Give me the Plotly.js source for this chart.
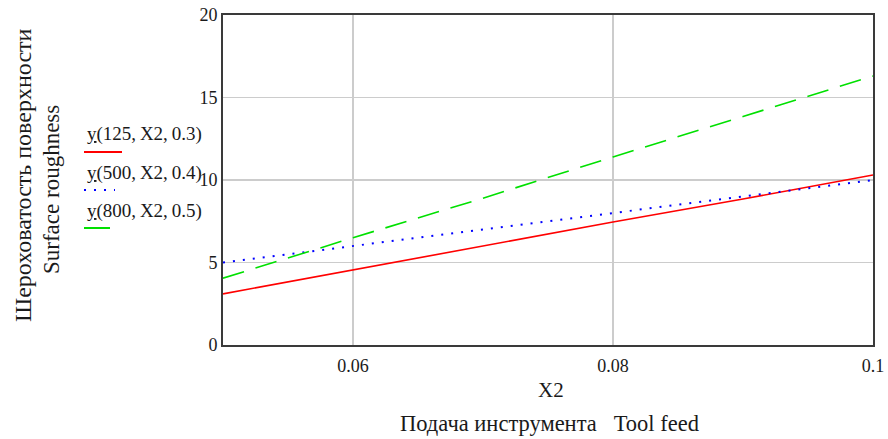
<!DOCTYPE html>
<html>
<head>
<meta charset="utf-8">
<script src="https://cdn.plot.ly/plotly-3.0.1.min.js"></script>
<style>html,body{margin:0;padding:0;background:#fff;}#chart{width:888px;height:439px;}</style>
</head>
<body>
<div id="chart"></div>
<script>
// Data
const feed = [0.05, 0.06, 0.07, 0.08, 0.09, 0.1];
const rough125 = [3.1, 4.55, 6.0, 7.45, 8.85, 10.3];
const rough500 = [5.0, 6.0, 7.0, 8.0, 9.0, 10.0];
const rough800 = [4.05, 6.5, 8.9, 11.4, 13.85, 16.3];
const seriesNames = ["y(125,\u2009X2,\u20090.3)", "y(500,\u2009X2,\u20090.4)", "y(800,\u2009X2,\u20090.5)"];
const xTicks = [0.06, 0.08, 0.1];
const xTickText = ["0.06", "0.08", "0.1"];
const yTicks = [0, 5, 10, 15, 20];
const yTitle1 = "Шероховатость поверхности";
const yTitle2 = "Surface roughness";
const xTitle1 = "X2";
const xTitle2 = "Подача инструмента   Tool feed";

const W = 888, H = 439;
const M = {l: 223, r: 15, t: 15, b: 94};
const PW = W - M.l - M.r, PH = H - M.t - M.b;
const px = x => (x - M.l) / PW;
const py = y => (H - M.b - y) / PH;

const FONT = "Liberation Serif";
const TXT = "#1a1a1a";

const traces = [
  {x: feed, y: rough125, mode: "lines", name: seriesNames[0], line: {color: "#ff0000", width: 1.6, dash: "solid"}},
  {x: feed, y: rough500, mode: "lines", name: seriesNames[1], line: {color: "#0000ff", width: 2, dash: "2px,8px"}},
  {x: feed, y: rough800, mode: "lines", name: seriesNames[2], line: {color: "#00e000", width: 1.6, dash: "22px,12px"}}
];

const legendColors = ["#ff0000", "#0000ff", "#00e000"];
const legendDash = ["solid", "2px,8px", "solid"];
const legendTextY = [134, 173, 211];
const legendLineY = [152, 190, 228];
const legendLineX2 = [122, 115, 110];

const annotations = [];
const shapes = [];
for (let i = 0; i < 3; i++) {
  annotations.push({
    xref: "paper", yref: "paper", x: px(85), y: py(legendTextY[i]),
    xanchor: "left", yanchor: "middle", showarrow: false,
    text: "<u>y</u>" + seriesNames[i].slice(1),
    font: {family: FONT, size: 19, color: TXT}
  });
  shapes.push({
    type: "line", xref: "paper", yref: "paper",
    x0: px(84), x1: px(legendLineX2[i]), y0: py(legendLineY[i]), y1: py(legendLineY[i]),
    line: {color: legendColors[i], width: 2, dash: legendDash[i]}
  });
}
annotations.push({
  xref: "paper", yref: "paper", x: px(23), y: py(175), textangle: -90,
  xanchor: "center", yanchor: "middle", showarrow: false,
  text: yTitle1, font: {family: FONT, size: 24, color: TXT}
});
annotations.push({
  xref: "paper", yref: "paper", x: px(51), y: py(189), textangle: -90,
  xanchor: "center", yanchor: "middle", showarrow: false,
  text: yTitle2, font: {family: FONT, size: 23, color: TXT}
});
annotations.push({
  xref: "paper", yref: "paper", x: px(551), y: py(390),
  xanchor: "center", yanchor: "middle", showarrow: false,
  text: xTitle1, font: {family: FONT, size: 21, color: TXT}
});
annotations.push({
  xref: "paper", yref: "paper", x: px(549), y: py(424),
  xanchor: "center", yanchor: "middle", showarrow: false,
  text: xTitle2, font: {family: FONT, size: 22.5, color: TXT}
});

const layout = {
  width: W, height: H,
  margin: M,
  paper_bgcolor: "#ffffff", plot_bgcolor: "#ffffff",
  showlegend: false,
  xaxis: {
    range: [0.05, 0.1], tickvals: xTicks, ticktext: xTickText,
    showgrid: true, gridcolor: "#cccccc", gridwidth: 1.5,
    showline: true, linecolor: "#3a3a3a", linewidth: 2, mirror: true,
    zeroline: false, ticks: "", ticklabelstandoff: 3,
    tickfont: {family: FONT, size: 18, color: TXT}
  },
  yaxis: {
    range: [0, 20], tickvals: yTicks,
    showgrid: true, gridcolor: "#cccccc", gridwidth: 1.5,
    showline: true, linecolor: "#3a3a3a", linewidth: 2, mirror: true,
    zeroline: false, ticks: "", ticklabelstandoff: 0,
    tickfont: {family: FONT, size: 18, color: TXT}
  },
  annotations: annotations,
  shapes: shapes
};

Plotly.newPlot("chart", traces, layout, {displayModeBar: false, staticPlot: true});
</script>
</body>
</html>
